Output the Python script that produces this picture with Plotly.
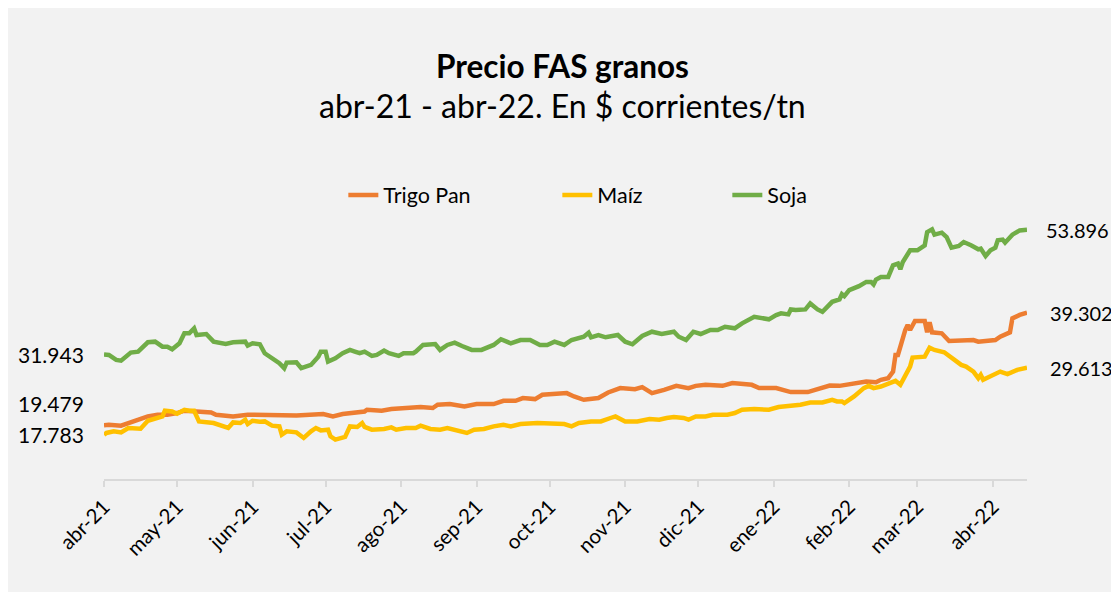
import plotly.graph_objects as go

# Precios FAS (miles de $ corrientes por tonelada)
soja_fechas = ["2021-04-01","2021-04-03","2021-04-06","2021-04-08","2021-04-12","2021-04-15","2021-04-19","2021-04-22","2021-04-25","2021-04-27","2021-04-29",
"2021-05-02","2021-05-04","2021-05-06","2021-05-08","2021-05-09","2021-05-13","2021-05-16","2021-05-21","2021-05-24","2021-05-29","2021-05-30",
"2021-06-01","2021-06-04","2021-06-06","2021-06-10","2021-06-12","2021-06-14","2021-06-15","2021-06-19","2021-06-21","2021-06-25","2021-06-28","2021-06-29",
"2021-07-01","2021-07-02","2021-07-05","2021-07-08","2021-07-11","2021-07-13","2021-07-15","2021-07-17","2021-07-20","2021-07-22","2021-07-25","2021-07-27","2021-07-31",
"2021-08-02","2021-08-06","2021-08-07","2021-08-10","2021-08-15","2021-08-17","2021-08-20","2021-08-23","2021-08-26","2021-08-30",
"2021-09-03","2021-09-08","2021-09-11","2021-09-15","2021-09-19","2021-09-23","2021-09-27","2021-09-30",
"2021-10-03","2021-10-07","2021-10-10","2021-10-12","2021-10-15","2021-10-17","2021-10-18","2021-10-21","2021-10-24","2021-10-29",
"2021-11-01","2021-11-04","2021-11-08","2021-11-12","2021-11-16","2021-11-21","2021-11-23","2021-11-26","2021-11-29",
"2021-12-02","2021-12-06","2021-12-09","2021-12-12","2021-12-16","2021-12-19","2021-12-24","2021-12-27","2021-12-30",
"2022-01-02","2022-01-04","2022-01-07","2022-01-08","2022-01-10","2022-01-14","2022-01-16","2022-01-19","2022-01-21","2022-01-25","2022-01-28","2022-01-29","2022-01-30",
"2022-02-01","2022-02-05","2022-02-08","2022-02-10","2022-02-11","2022-02-12","2022-02-14","2022-02-17","2022-02-19","2022-02-21","2022-02-22","2022-02-23","2022-02-26",
"2022-03-01","2022-03-04","2022-03-05","2022-03-06","2022-03-07","2022-03-08","2022-03-09","2022-03-11","2022-03-13","2022-03-15","2022-03-18","2022-03-20","2022-03-23","2022-03-26","2022-03-27","2022-03-29","2022-03-31",
"2022-04-02","2022-04-03","2022-04-05","2022-04-06","2022-04-09","2022-04-12","2022-04-15"]
soja = [31.943,31.84,30.96,30.84,32.25,32.42,34.07,34.18,33.30,33.30,32.84,
33.89,35.65,35.65,36.53,35.35,35.53,34.18,33.77,34.07,34.18,33.47,
33.89,33.72,32.14,31.09,30.39,29.51,30.49,30.56,29.51,30.09,31.54,32.42,
32.42,30.67,31.26,32.14,32.72,32.42,32.14,32.42,31.67,31.84,32.60,32.14,31.67,
32.14,32.14,32.42,33.60,33.77,32.72,33.60,34.00,33.42,32.72,
32.72,33.60,34.60,33.89,34.47,34.47,33.60,33.60,
34.18,33.60,34.47,34.77,35.05,35.75,34.95,35.35,34.95,35.35,
34.18,33.72,35.18,35.93,35.53,35.93,35.05,34.47,35.93,
35.53,36.23,36.23,36.81,36.53,37.40,38.56,38.28,38.11,
38.86,39.16,38.98,39.86,39.74,39.86,40.91,39.86,39.44,41.19,41.61,42.54,42.19,
43.25,43.95,44.70,44.70,44.25,45.12,45.58,45.58,47.63,47.93,46.93,48.21,50.26,
50.26,51.14,53.47,53.65,53.95,53.02,53.19,53.37,52.60,50.74,51.02,51.72,51.14,50.44,50.56,49.26,50.26,
50.74,52.02,52.14,51.61,53.02,53.77,53.896]

trigo_fechas = ["2021-04-01","2021-04-03","2021-04-08","2021-04-12","2021-04-16","2021-04-19","2021-04-23","2021-04-27",
"2021-05-01","2021-05-04","2021-05-09","2021-05-15","2021-05-17","2021-05-24","2021-05-30",
"2021-06-04","2021-06-10","2021-06-19","2021-06-30",
"2021-07-04","2021-07-08","2021-07-17","2021-07-18","2021-07-24","2021-07-28",
"2021-08-02","2021-08-07","2021-08-09","2021-08-14","2021-08-16","2021-08-21","2021-08-27",
"2021-09-01","2021-09-08","2021-09-12","2021-09-17","2021-09-20","2021-09-25","2021-09-28",
"2021-10-04","2021-10-08","2021-10-11","2021-10-15","2021-10-21","2021-10-25","2021-10-30",
"2021-11-05","2021-11-08","2021-11-12","2021-11-17","2021-11-22","2021-11-27","2021-11-30",
"2021-12-04","2021-12-11","2021-12-15","2021-12-23","2021-12-26",
"2022-01-02","2022-01-08","2022-01-15","2022-01-18","2022-01-21","2022-01-24","2022-01-28",
"2022-02-03","2022-02-08","2022-02-12","2022-02-14","2022-02-17","2022-02-19","2022-02-20","2022-02-21","2022-02-24","2022-02-25","2022-02-26","2022-02-28",
"2022-03-04","2022-03-05","2022-03-06","2022-03-07","2022-03-11","2022-03-13","2022-03-14","2022-03-24","2022-03-26",
"2022-04-02","2022-04-04","2022-04-08","2022-04-09","2022-04-12","2022-04-15"]
trigo = [19.479,19.56,19.39,19.96,20.44,21.02,21.32,21.32,
21.61,22.02,21.89,21.72,21.32,21.02,21.32,
21.32,21.14,21.19,21.44,
21.02,21.44,21.89,22.19,22.02,22.32,
22.49,22.49,22.67,22.49,23.07,23.19,22.77,
23.19,23.19,23.77,23.77,24.25,24.07,24.82,
24.95,25.12,24.53,23.95,24.25,25.23,26.00,
25.82,26.18,25.12,25.70,26.40,26.00,26.40,
26.58,26.40,26.88,26.58,26.00,
26.00,25.30,25.30,25.70,26.11,26.46,26.40,
26.75,27.16,27.05,27.46,27.75,28.91,31.84,31.84,36.23,37.11,36.23,37.81,
37.81,35.82,37.58,35.82,35.65,34.77,34.30,34.47,34.18,
34.47,35.05,35.82,38.28,38.90,39.302]

maiz_fechas = ["2021-04-01","2021-04-02","2021-04-05","2021-04-08","2021-04-11","2021-04-16","2021-04-19","2021-04-22","2021-04-25","2021-04-26","2021-04-29",
"2021-05-01","2021-05-04","2021-05-06","2021-05-08","2021-05-10","2021-05-16","2021-05-22","2021-05-24","2021-05-27","2021-05-29","2021-05-30",
"2021-06-01","2021-06-04","2021-06-06","2021-06-09","2021-06-12","2021-06-13","2021-06-15","2021-06-19","2021-06-22","2021-06-25","2021-06-27","2021-06-29",
"2021-07-02","2021-07-03","2021-07-05","2021-07-09","2021-07-11","2021-07-14","2021-07-16","2021-07-17","2021-07-20","2021-07-25","2021-07-28","2021-07-30",
"2021-08-03","2021-08-07","2021-08-09","2021-08-13","2021-08-17","2021-08-20","2021-08-24","2021-08-28","2021-08-31",
"2021-09-04","2021-09-08","2021-09-12","2021-09-15","2021-09-19","2021-09-26",
"2021-10-02","2021-10-07","2021-10-10","2021-10-13","2021-10-18","2021-10-22","2021-10-26","2021-10-28",
"2021-11-01","2021-11-06","2021-11-11","2021-11-15","2021-11-18","2021-11-21","2021-11-25","2021-11-27","2021-11-30",
"2021-12-04","2021-12-07","2021-12-13","2021-12-16","2021-12-19","2021-12-24","2021-12-30",
"2022-01-03","2022-01-12","2022-01-16","2022-01-21","2022-01-25","2022-01-27","2022-01-29","2022-01-30",
"2022-02-03","2022-02-07","2022-02-09","2022-02-11","2022-02-14","2022-02-18","2022-02-20","2022-02-22","2022-02-24","2022-02-26","2022-02-27",
"2022-03-04","2022-03-06","2022-03-08","2022-03-12","2022-03-15","2022-03-19","2022-03-21","2022-03-24","2022-03-26","2022-03-27","2022-03-28",
"2022-04-01","2022-04-04","2022-04-07","2022-04-11","2022-04-15"]
maiz = [17.783,18.11,18.39,18.21,18.98,18.86,20.26,20.56,21.02,22.02,21.89,
21.49,22.19,22.02,22.02,20.14,19.86,18.98,19.96,19.86,20.44,19.68,
20.26,20.10,20.14,19.39,19.26,17.81,18.39,18.21,17.23,18.39,18.98,18.56,
18.68,17.51,16.93,17.40,19.26,19.16,19.86,19.16,18.68,18.81,19.09,18.68,
18.98,18.98,19.39,18.81,18.68,18.98,18.51,18.11,18.68,
18.81,19.26,19.56,19.26,19.68,19.86,
19.74,19.68,19.26,19.86,20.14,20.14,20.74,21.02,
20.14,20.14,20.56,20.44,20.74,20.91,20.74,20.44,21.02,
21.02,21.32,21.32,21.61,22.19,22.32,22.19,
22.67,23.07,23.47,23.47,23.95,23.65,23.65,23.37,
24.53,26.00,26.40,26.00,26.28,26.88,27.28,26.58,28.33,29.79,31.37,
31.54,33.12,32.72,32.32,31.26,30.09,29.79,28.91,27.75,28.33,27.46,
28.33,28.91,28.46,29.21,29.613]

meses_tick = ["2021-04-01","2021-05-01","2021-06-01","2021-07-01","2021-08-01","2021-09-01","2021-10-01",
              "2021-11-01","2021-12-01","2022-01-01","2022-02-01","2022-03-01","2022-04-01"]
meses_txt = ["abr-21","may-21","jun-21","jul-21","ago-21","sep-21","oct-21",
             "nov-21","dic-21","ene-22","feb-22","mar-22","abr-22"]

FONT = "Lato"
series = [
    ("Trigo Pan", trigo_fechas, trigo, "#ED7D31", 169),
    ("Maíz", maiz_fechas, maiz, "#FFC000", 125),
    ("Soja", soja_fechas, soja, "#70AD47", 60),
]

fig = go.Figure()
for name, fx, fy, col, lw in series:
    fig.add_trace(go.Scatter(x=fx, y=fy, mode="lines", name=name,
                             line=dict(color=col, width=4.5), legendwidth=lw))

def fmt(v):
    return f"{v:.3f}"

anns = []
left_yshift = {"Trigo Pan": 22, "Maíz": 0, "Soja": 0}
right_xshift = {"Trigo Pan": 21, "Maíz": 21, "Soja": 17}
for name, fx, fy, col, lw in series:
    anns.append(dict(xref="paper", yref="y", x=0, y=fy[0], xanchor="right", yanchor="middle",
                     xshift=-18, yshift=left_yshift[name], text=fmt(fy[0]), showarrow=False,
                     font=dict(family=FONT, size=21, color="#000000")))
    anns.append(dict(xref="paper", yref="y", x=1, y=fy[-1], xanchor="left", yanchor="middle",
                     xshift=right_xshift[name], text=fmt(fy[-1]), showarrow=False,
                     font=dict(family=FONT, size=20, color="#000000")))

anns.append(dict(xref="paper", yref="paper", x=0.4964, y=1.4544, xanchor="center", yanchor="middle",
                 text="<b>Precio FAS granos</b>", showarrow=False,
                 font=dict(family=FONT, size=31.5, color="#000000")))
anns.append(dict(xref="paper", yref="paper", x=0.4964, y=1.314, xanchor="center", yanchor="middle",
                 text="abr-21 - abr-22. En $ corrientes/tn", showarrow=False,
                 font=dict(family=FONT, size=32, color="#000000")))

fig.update_layout(
    width=1111, height=584,
    margin=dict(l=96, r=92.3, t=186.5, b=112.5, pad=0),
    paper_bgcolor="#f2f2f2",
    plot_bgcolor="#f2f2f2",
    annotations=anns,
    showlegend=True,
    legend=dict(orientation="h", x=0.2593, xanchor="left", y=1.0, yanchor="middle",
                bgcolor="rgba(0,0,0,0)", font=dict(family=FONT, size=21.5, color="#000000"),
                itemwidth=30, traceorder="normal"),
    xaxis=dict(type="date", range=["2021-04-01", "2022-04-15"], tickvals=meses_tick, ticktext=meses_txt,
               tickangle=-45, ticks="outside", ticklen=6, tickwidth=1.5, tickcolor="#d9d9d9",
               showline=True, linecolor="#d9d9d9", linewidth=1.5, showgrid=False, zeroline=False,
               automargin=False,
               tickfont=dict(family=FONT, size=20.5, color="#000000")),
    yaxis=dict(range=[10, 60], visible=False, showgrid=False, zeroline=False),
    font=dict(family=FONT),
)

fig.write_html("out.html")
